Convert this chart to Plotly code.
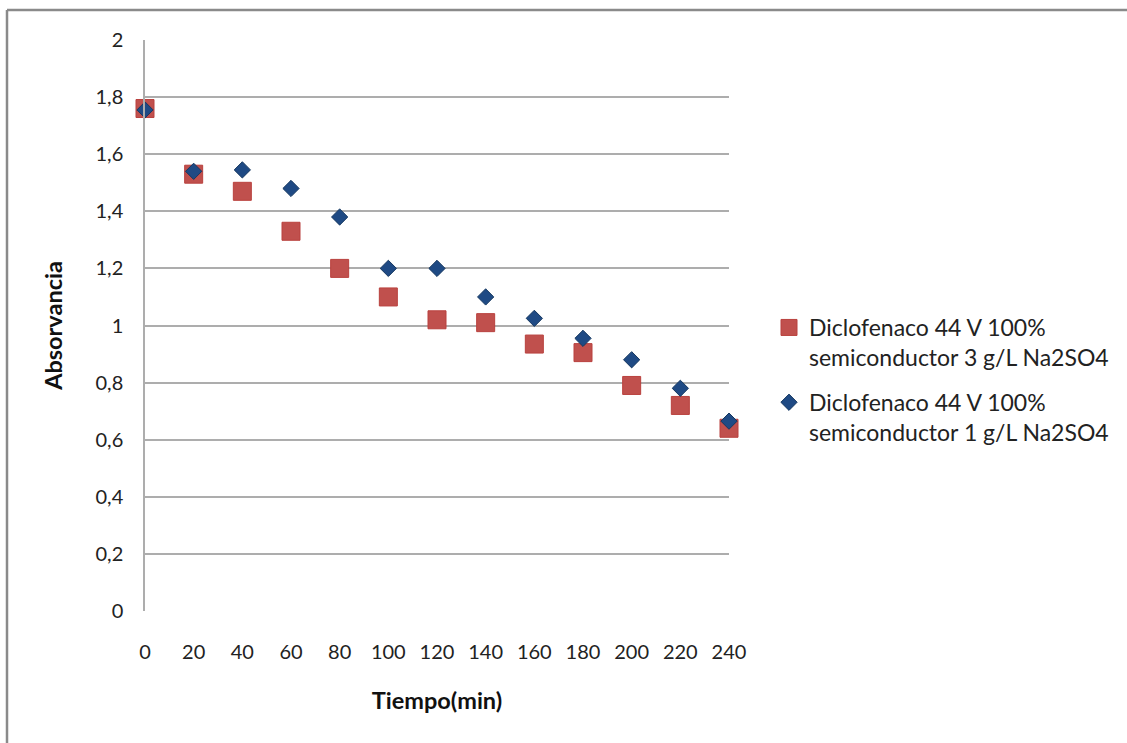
import plotly.graph_objects as go

# Sampling times (min)
tiempo = [0, 20, 40, 60, 80, 100, 120, 140, 160, 180, 200, 220, 240]

# Absorbance, 3 g/L Na2SO4
abs_3gL = [1.76, 1.53, 1.47, 1.33, 1.20, 1.10, 1.02, 1.01, 0.935, 0.905, 0.79, 0.72, 0.64]
# Absorbance, 1 g/L Na2SO4
abs_1gL = [1.755, 1.54, 1.545, 1.48, 1.38, 1.20, 1.20, 1.10, 1.025, 0.955, 0.88, 0.78, 0.665]

serie_3gL = "Diclofenaco 44 V 100%<br>semiconductor 3 g/L Na2SO4"
serie_1gL = "Diclofenaco 44 V 100%<br>semiconductor 1 g/L Na2SO4"

y_ticks = [0, 0.2, 0.4, 0.6, 0.8, 1.0, 1.2, 1.4, 1.6, 1.8, 2.0]
y_ticktext = ["0", "0,2", "0,4", "0,6", "0,8", "1", "1,2", "1,4", "1,6", "1,8", "2"]
x_ticks = [0, 20, 40, 60, 80, 100, 120, 140, 160, 180, 200, 220, 240]

# Canvas and plot-area geometry (pixels)
W, H = 1127, 743
ML, MR, MT, MB = 145, 398, 40, 132
PW, PH = W - ML - MR, H - MT - MB


def px_x(px):
    return (px - ML) / PW


def px_y(py):
    return (H - MB - py) / PH


FONT = "Lato"
GRID = "#ADADAD"
TEXT = "#222222"

fig = go.Figure()
fig.add_trace(go.Scatter(
    x=tiempo, y=abs_3gL, mode="markers", name=serie_3gL,
    legendgroup="a",
    marker=dict(symbol="square", size=18, color="#C0504D",
                line=dict(color="#B9413E", width=1)),
    cliponaxis=False,
))
fig.add_trace(go.Scatter(
    x=tiempo, y=abs_1gL, mode="markers", name=serie_1gL,
    legendgroup="b",
    marker=dict(symbol="diamond", size=12.5, color="#1F4A84",
                line=dict(color="#163860", width=1)),
    cliponaxis=False,
))

fig.update_layout(
    width=W, height=H,
    margin=dict(l=ML, r=MR, t=MT, b=MB, pad=0),
    paper_bgcolor="white", plot_bgcolor="white",
    font=dict(family=FONT, size=20, color=TEXT),
    hovermode=False,
    legend=dict(
        x=px_x(769), y=px_y(306), xanchor="left", yanchor="top",
        font=dict(family=FONT, size=23, color=TEXT),
        valign="top", tracegroupgap=12, itemwidth=30,
        bgcolor="rgba(0,0,0,0)",
    ),
    xaxis=dict(
        range=[0, 240], tickvals=x_ticks, showgrid=False, zeroline=False,
        showline=False, ticks="", ticklabelstandoff=27,
        tickfont=dict(family=FONT, size=20, color=TEXT),
        title=dict(text="<b>Tiempo(min)</b>", standoff=30,
                   font=dict(family=FONT, size=23.5, color="#111111")),
    ),
    yaxis=dict(
        range=[0, 2], tickvals=y_ticks, ticktext=y_ticktext,
        showgrid=True, gridcolor=GRID, gridwidth=1.5,
        zeroline=False, showline=True, linecolor=GRID, linewidth=1.5,
        ticks="", ticklabelstandoff=16,
        tickfont=dict(family=FONT, size=20, color=TEXT),
        title=dict(text="<b>Absorvancia</b>", standoff=26,
                   font=dict(family=FONT, size=23.5, color="#111111")),
    ),
    shapes=[
        # outer frame (top and left edges)
        dict(type="line", xref="paper", yref="paper",
             x0=px_x(7), x1=px_x(W), y0=px_y(10), y1=px_y(10),
             line=dict(color="#8A8A8A", width=2.5)),
        dict(type="line", xref="paper", yref="paper",
             x0=px_x(7), x1=px_x(7), y0=px_y(10), y1=px_y(H),
             line=dict(color="#8A8A8A", width=2.5)),
    ],
)

fig.write_html("out.html")
